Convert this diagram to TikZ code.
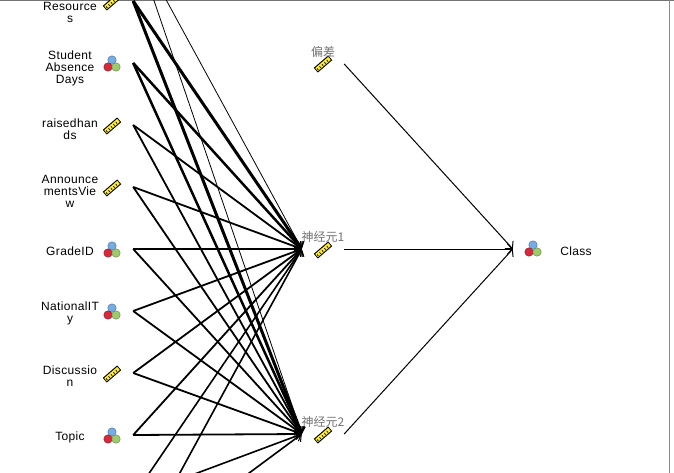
\documentclass[tikz,border=0pt]{standalone}
\usepackage{fontspec}
\setmainfont[LetterSpace=3]{Liberation Sans}
\newfontfamily\cjk{Noto Sans CJK SC}
\usetikzlibrary{arrows.meta}
\definecolor{ballred}{HTML}{D8283C}
\definecolor{ballgreen}{HTML}{9CCB6C}
\definecolor{ballblue}{HTML}{74ACE4}
\definecolor{rulegold}{HTML}{FFEE22}
\tikzset{
  unit/.style={minimum width=42pt, minimum height=14pt, inner sep=0pt},
  lbl/.style={font=\fontsize{12}{12}\selectfont, align=center, text=black},
  cnlbl/.style={font=\fontsize{12}{12}\selectfont\cjk, text=black!55, inner sep=0pt},
  link/.style={-{Straight Barb[length=5pt, width=11pt, line width=1pt]}, line width=#1},
  link/.default=1pt,
  pics/nominal/.style={code={
    \draw[line width=0.5pt, ballblue!70!black, fill=ballblue] (0,-4) circle (4.2);
    \draw[line width=0.5pt, ballred!70!black, fill=ballred] (-4,3) circle (4.2);
    \draw[line width=0.5pt, ballgreen!70!black, fill=ballgreen] (4,3) circle (4.2);
  }},
  pics/numeric/.style={code={
    \draw[line width=6.2pt] (-7.2,6.2) -- (7.2,-6.2);
    \draw[line width=4pt, rulegold] (-6.5,5.6) -- (6.5,-5.6);
    \draw[line width=1.8pt, dash pattern=on 0.8pt off 2.4pt] (-5.6,5.4) -- (5.6,-4.2);
  }},
}
\begin{document}
\begin{tikzpicture}[x=1pt, y=-1pt]
  \useasboundingbox (0,0) rectangle (674,473);
  \clip (0,0) rectangle (674,473);
  \fill[white] (0,0) rectangle (674,473);
  \draw[line width=1.2pt, black!55] (0,0.6) -- (674,0.6);
  \draw[line width=1pt, black!45] (669.5,0) -- (669.5,473);
  % inputs
  \coordinate (in0) at (133,-61);
  \foreach \n/\y/\kind in {1/1/numeric, 2/63/nominal, 3/125/numeric, 4/187/numeric,
      5/249/nominal, 6/311/nominal, 7/373/numeric, 8/435/nominal} {
    \node[unit] (in\n) at (112,\y) {};
    \pic at (112,\y+1) {\kind};
  }
  \coordinate (in9) at (133,497);
  \coordinate (in10) at (133,559);
  \node[lbl] (lblA) at (70,12) {Resource\\[0pt]s};
  \node[lbl] (lblB) at (70,68) {Student\\Absence\\Days};
  \node[lbl] (lblC) at (70,129.5) {raisedhan\\ds};
  \node[lbl] (lblD) at (70,191.5) {Announce\\mentsVie\\w};
  \node[lbl] (lblE) at (70,251) {GradeID};
  \node[lbl] (lblF) at (70,313.5) {NationalIT\\y};
  \node[lbl] (lblG) at (70,376) {Discussio\\n};
  \node[lbl] (lblH) at (70,437) {Topic};
  % hidden layer
  \node[unit] (bias) at (323,64) {};
  \node[unit] (hidA) at (323,249) {};
  \node[unit] (hidB) at (323,434) {};
  \pic at (323,64) {numeric};
  \pic at (323,250) {numeric};
  \pic at (323,435) {numeric};
  \node[cnlbl] (lblBias) at (323,52) {偏差};
  \node[cnlbl] (lblHidA) at (323,237) {神经元1};
  \node[cnlbl] (lblHidB) at (323,422) {神经元2};
  % output
  \node[unit] (cls) at (534,249) {};
  \pic at (533,249) {nominal};
  \node[lbl] (lblCls) at (576,251.5) {Class};
  % links
  \draw[link=0.8pt] (in0) -- (hidA.west);
  \draw[link=0.8pt] (in0) -- (hidB.west);
  \draw[link=3pt] (in1.east) -- (hidA.west);
  \draw[link=3pt] (in1.east) -- (hidB.west);
  \draw[link=2.5pt] (in2.east) -- (hidA.west);
  \draw[link=2.5pt] (in2.east) -- (hidB.west);
  \foreach \n in {3,...,8} {
    \draw[link=1.8pt] (in\n.east) -- (hidA.west);
    \draw[link=1.8pt] (in\n.east) -- (hidB.west);
  }
  \foreach \n in {9,10} {
    \draw[link=1.6pt] (in\n) -- (hidA.west);
    \draw[link=1.6pt] (in\n) -- (hidB.west);
  }
  \draw[link] (bias.east) -- (cls.west);
  \draw[link] (hidA.east) -- (cls.west);
  \draw[link] (hidB.east) -- (cls.west);
\end{tikzpicture}
\end{document}
